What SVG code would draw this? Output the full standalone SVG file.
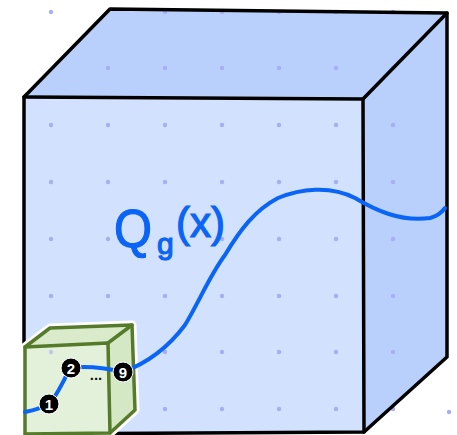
<svg xmlns="http://www.w3.org/2000/svg" width="457" height="435" viewBox="0 0 457 435">
<style>
.edge{fill:none;stroke:#000;stroke-width:3.5;stroke-linejoin:round;stroke-linecap:round}
.gedge{fill:none;stroke:#557a2a;stroke-width:3.5;stroke-linejoin:round;stroke-linecap:round}
.dot{fill:#a7aef5}
.node circle{fill:#000;stroke:#fff;stroke-width:1}
.node text{fill:#fff;font-family:"Liberation Sans",Arial,sans-serif;font-weight:bold;font-size:15px;text-anchor:middle}
.lbl{fill:#0a64f5;stroke:#0a64f5;stroke-width:1.2;font-family:"Liberation Sans",Arial,sans-serif}
</style>
<rect width="457" height="435" fill="#fff"/>
<g id="big-cube">
<polygon points="24,97 110,9 447,13 363,99" fill="#b9d0fc"/>
<polygon points="363,99 447,13 447,357 364,432" fill="#b9d0fc"/>
<polygon points="24,97 363,99 364,432 24,435" fill="#d2e1fd"/>
</g>
<g id="dots">
<circle class="dot" cx="51" cy="12" r="2.2"/>
<circle class="dot" cx="165" cy="12" r="2.2"/><circle class="dot" cx="222" cy="12" r="2.2"/><circle class="dot" cx="279" cy="12" r="2.2"/><circle class="dot" cx="336" cy="12" r="2.2"/><circle class="dot" cx="393" cy="12" r="2.2"/>
<circle class="dot" cx="108" cy="68" r="2.2"/><circle class="dot" cx="165" cy="68" r="2.2"/><circle class="dot" cx="222" cy="68" r="2.2"/><circle class="dot" cx="279" cy="68" r="2.2"/><circle class="dot" cx="336" cy="68" r="2.2"/><circle class="dot" cx="393" cy="68" r="2.2"/>
<circle class="dot" cx="51" cy="125" r="2.2"/><circle class="dot" cx="108" cy="125" r="2.2"/><circle class="dot" cx="165" cy="125" r="2.2"/><circle class="dot" cx="222" cy="125" r="2.2"/><circle class="dot" cx="279" cy="125" r="2.2"/><circle class="dot" cx="336" cy="125" r="2.2"/><circle class="dot" cx="393" cy="125" r="2.2"/>
<circle class="dot" cx="51" cy="182" r="2.2"/><circle class="dot" cx="108" cy="182" r="2.2"/><circle class="dot" cx="165" cy="182" r="2.2"/><circle class="dot" cx="222" cy="182" r="2.2"/><circle class="dot" cx="279" cy="182" r="2.2"/><circle class="dot" cx="336" cy="182" r="2.2"/><circle class="dot" cx="393" cy="182" r="2.2"/>
<circle class="dot" cx="51" cy="239" r="2.2"/><circle class="dot" cx="108" cy="239" r="2.2"/><circle class="dot" cx="165" cy="239" r="2.2"/><circle class="dot" cx="222" cy="239" r="2.2"/><circle class="dot" cx="279" cy="239" r="2.2"/><circle class="dot" cx="336" cy="239" r="2.2"/><circle class="dot" cx="393" cy="239" r="2.2"/>
<circle class="dot" cx="51" cy="296" r="2.2"/><circle class="dot" cx="108" cy="296" r="2.2"/><circle class="dot" cx="165" cy="296" r="2.2"/><circle class="dot" cx="222" cy="296" r="2.2"/><circle class="dot" cx="279" cy="296" r="2.2"/><circle class="dot" cx="336" cy="296" r="2.2"/><circle class="dot" cx="393" cy="296" r="2.2"/>
<circle class="dot" cx="165" cy="352" r="2.2"/><circle class="dot" cx="222" cy="352" r="2.2"/><circle class="dot" cx="279" cy="352" r="2.2"/><circle class="dot" cx="336" cy="352" r="2.2"/><circle class="dot" cx="393" cy="352" r="2.2"/>
<circle class="dot" cx="165" cy="409" r="2.2"/><circle class="dot" cx="222" cy="409" r="2.2"/><circle class="dot" cx="279" cy="409" r="2.2"/><circle class="dot" cx="336" cy="409" r="2.2"/><circle class="dot" cx="393" cy="409" r="2.2"/>
<circle class="dot" cx="449" cy="412" r="2.2"/>
</g>
<g id="big-cube-edges">
<path class="edge" d="M24,435 L24,97 L110,9 L447,13 L447,357 L364,432 L24,434"/>
<path class="edge" d="M24,97 L363,99 L364,432"/>
<path class="edge" d="M363,99 L447,13"/>
</g>
<g id="small-cube">
<path d="M25,435 L25,347 L50,328 L132,325 L135,410 L110,433 Z" fill="none" stroke="#fff" stroke-width="9" stroke-linejoin="round"/>
<polygon points="25,347 50,328 132,325 108,343" fill="#d9ebcb"/>
<polygon points="108,343 132,325 135,410 110,433" fill="#d5e8c5"/>
<polygon points="25,347 108,343 110,433 25,435" fill="#e3f0da"/>
<circle class="dot" cx="51" cy="352" r="2.2" opacity="0.6"/>
<path class="gedge" d="M25,435 L25,347 L50,328 L132,325 L135,410 L110,433 L25,434"/>
<path class="gedge" d="M25,347 L108,343 L110,433"/>
<path class="gedge" d="M108,343 L132,325"/>
</g>
<g id="connectors">
<path d="M25,412 C35,410 42,408 49,404 C58,395 64,378 71,368 C85,366 105,368 123,372 C150,362 170,345 185,325 C200,300 210,275 225,255 C240,230 255,210 278,198 C300,189 330,185 355,198 C375,210 400,222 430,218 C438,216 442,212 445,208" fill="none" stroke="#0a64f5" stroke-width="4" stroke-linecap="round"/>
</g>
<g id="node-1" class="node"><circle cx="49" cy="404" r="10"/><text x="49" y="409.5">1</text></g>
<g id="node-2" class="node"><circle cx="71" cy="368" r="10"/><text x="71" y="373.5">2</text></g>
<g id="node-9" class="node"><circle cx="123" cy="372" r="10"/><text x="123" y="377.5">9</text></g>
<text x="96" y="380" font-family="Liberation Sans,Arial,sans-serif" font-size="15" font-weight="bold" fill="#111" text-anchor="middle">...</text>
<g id="label">
<text class="lbl" x="114" y="247" font-size="54" textLength="38" lengthAdjust="spacingAndGlyphs">Q</text>
<text class="lbl" x="157" y="254" font-size="30">g</text>
<text class="lbl" x="176" y="237" font-size="42">(x)</text>
</g>
</svg>
